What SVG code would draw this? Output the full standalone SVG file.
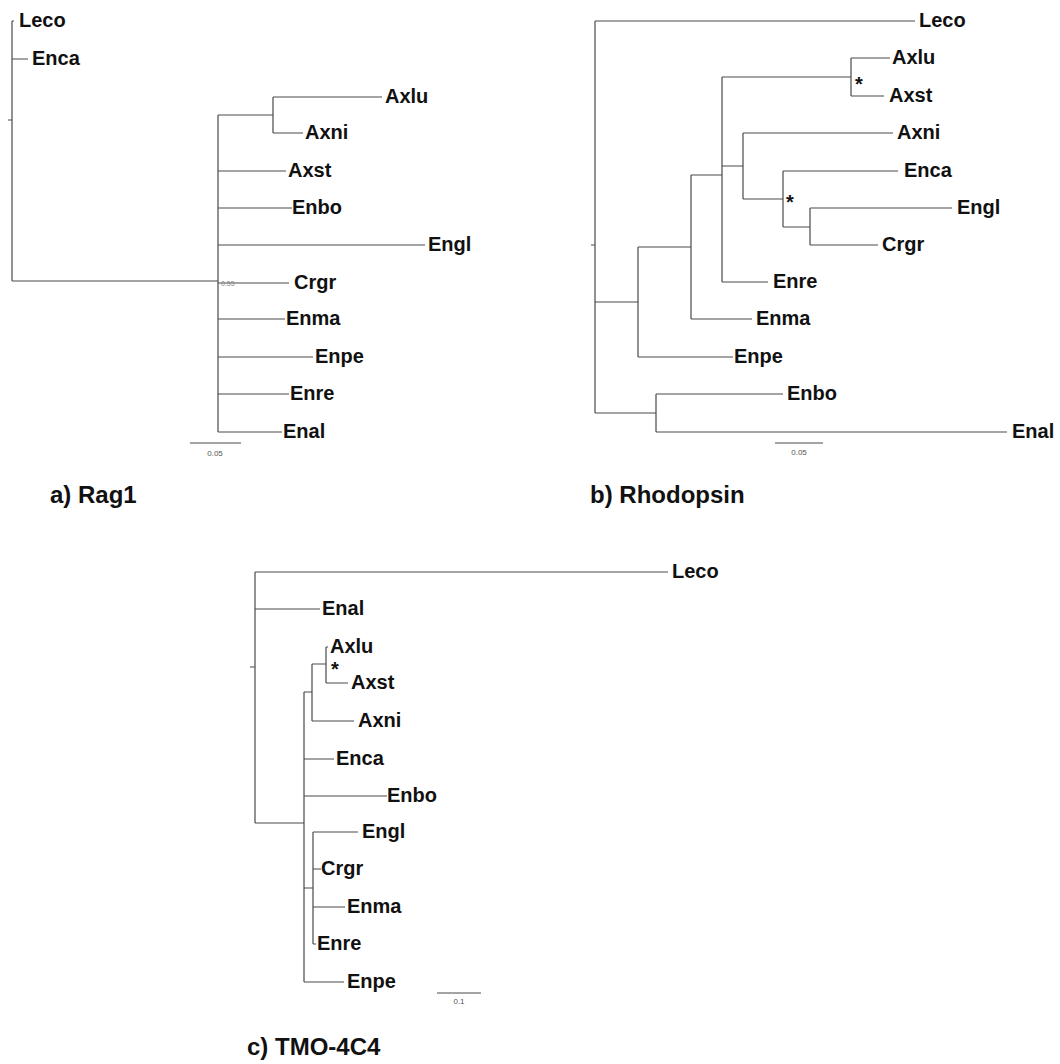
<svg xmlns="http://www.w3.org/2000/svg" width="1060" height="1064" viewBox="0 0 1060 1064">
<style>
.br{fill:none;stroke:#4a4a4a;stroke-width:1.2}
.lb{font-family:"Liberation Sans",Arial,sans-serif;font-weight:bold;font-size:20px;fill:#111}
.st{font-family:"Liberation Sans",Arial,sans-serif;font-weight:bold;font-size:20px;fill:#111}
.ttl{font-family:"Liberation Sans",Arial,sans-serif;font-weight:bold;font-size:24px;fill:#111}
.sc{font-family:"Liberation Sans",Arial,sans-serif;font-size:8px;fill:#555;text-anchor:middle}
</style>
<rect width="1060" height="1064" fill="#fff"/>

<!-- Tree a: Rag1 -->
<g id="connectors-a">
<path class="br" d="M8,120H12 M12,21V281 M12,21H14 M12,59H28 M12,281H218 M218,115V432 M218,115H273 M273,97V133 M273,97H382 M273,133H303 M218,171H286 M218,208H292 M218,245H425 M218,283H289 M218,319H285 M218,357H313 M218,394H289 M218,432H282"/>
<path class="br" d="M190,443H241"/>
</g>
<g id="a-Leco"><text class="lb" x="19" y="27">Leco</text></g>
<g id="a-Enca"><text class="lb" x="32" y="65">Enca</text></g>
<g id="a-Axlu"><text class="lb" x="385" y="103">Axlu</text></g>
<g id="a-Axni"><text class="lb" x="305" y="139">Axni</text></g>
<g id="a-Axst"><text class="lb" x="288" y="177">Axst</text></g>
<g id="a-Enbo"><text class="lb" x="292" y="214">Enbo</text></g>
<g id="a-Engl"><text class="lb" x="428" y="251">Engl</text></g>
<g id="a-Crgr"><text class="lb" x="294" y="289">Crgr</text></g>
<g id="a-Enma"><text class="lb" x="286" y="325">Enma</text></g>
<g id="a-Enpe"><text class="lb" x="315" y="363">Enpe</text></g>
<g id="a-Enre"><text class="lb" x="290" y="400">Enre</text></g>
<g id="a-Enal"><text class="lb" x="283" y="438">Enal</text></g>
<g id="a-node"><text x="221" y="286" font-family="Liberation Sans,Arial,sans-serif" font-size="7" fill="#888">0.55</text></g>
<g id="a-scale"><text class="sc" x="215" y="456">0.05</text></g>
<g id="a-title"><text class="ttl" x="50" y="503">a) Rag1</text></g>

<!-- Tree b: Rhodopsin -->
<g id="connectors-b">
<path class="br" d="M591,245H595 M595,21V413 M595,21H915 M595,302H638 M638,247V357 M638,357H733 M638,247H691 M691,175V319 M691,319H752 M691,175H722 M722,77V282 M722,282H768 M722,77H851 M851,58V96 M851,58H890 M851,96H884 M722,166H743 M743,133V199 M743,133H893 M743,199H783 M783,171V227 M783,171H898 M783,227H810 M810,208V245 M810,208H952 M810,245H878 M595,413H656 M656,394V432 M656,394H783 M656,432H1007"/>
<path class="br" d="M775,443H823"/>
</g>
<g id="b-Leco"><text class="lb" x="919" y="27">Leco</text></g>
<g id="b-Axlu"><text class="lb" x="892" y="64">Axlu</text></g>
<g id="b-Axst"><text class="lb" x="889" y="102">Axst</text></g>
<g id="b-Axni"><text class="lb" x="897" y="139">Axni</text></g>
<g id="b-Enca"><text class="lb" x="904" y="177">Enca</text></g>
<g id="b-Engl"><text class="lb" x="957" y="214">Engl</text></g>
<g id="b-Crgr"><text class="lb" x="882" y="251">Crgr</text></g>
<g id="b-Enre"><text class="lb" x="773" y="288">Enre</text></g>
<g id="b-Enma"><text class="lb" x="756" y="325">Enma</text></g>
<g id="b-Enpe"><text class="lb" x="734" y="363">Enpe</text></g>
<g id="b-Enbo"><text class="lb" x="787" y="400">Enbo</text></g>
<g id="b-Enal"><text class="lb" x="1012" y="438">Enal</text></g>
<g id="b-star1"><text class="st" x="855" y="91">*</text></g>
<g id="b-star2"><text class="st" x="786" y="209">*</text></g>
<g id="b-scale"><text class="sc" x="799" y="455">0.05</text></g>
<g id="b-title"><text class="ttl" x="590" y="503">b) Rhodopsin</text></g>

<!-- Tree c: TMO-4C4 -->
<g id="connectors-c">
<path class="br" d="M250,667H255 M255,572V823 M255,572H668 M255,609H320 M255,823H304 M304,692V982 M304,692H312 M312,664V721 M312,721H354 M312,664H326 M326,647V683 M326,647H328 M326,683H348 M304,759H334 M304,796H387 M304,888H313 M313,832V944 M313,832H358 M313,869H321 M313,907H345 M313,944H316 M304,982H344"/>
<path class="br" d="M437,993H481"/>
</g>
<g id="c-Leco"><text class="lb" x="672" y="578">Leco</text></g>
<g id="c-Enal"><text class="lb" x="322" y="615">Enal</text></g>
<g id="c-Axlu"><text class="lb" x="330" y="653">Axlu</text></g>
<g id="c-Axst"><text class="lb" x="351" y="689">Axst</text></g>
<g id="c-Axni"><text class="lb" x="358" y="727">Axni</text></g>
<g id="c-Enca"><text class="lb" x="336" y="765">Enca</text></g>
<g id="c-Enbo"><text class="lb" x="387" y="802">Enbo</text></g>
<g id="c-Engl"><text class="lb" x="362" y="838">Engl</text></g>
<g id="c-Crgr"><text class="lb" x="321" y="875">Crgr</text></g>
<g id="c-Enma"><text class="lb" x="347" y="913">Enma</text></g>
<g id="c-Enre"><text class="lb" x="317" y="950">Enre</text></g>
<g id="c-Enpe"><text class="lb" x="347" y="988">Enpe</text></g>
<g id="c-star"><text class="st" x="331" y="676">*</text></g>
<g id="c-scale"><text class="sc" x="459" y="1004">0.1</text></g>
<g id="c-title"><text class="ttl" x="247" y="1055">c) TMO-4C4</text></g>
</svg>
